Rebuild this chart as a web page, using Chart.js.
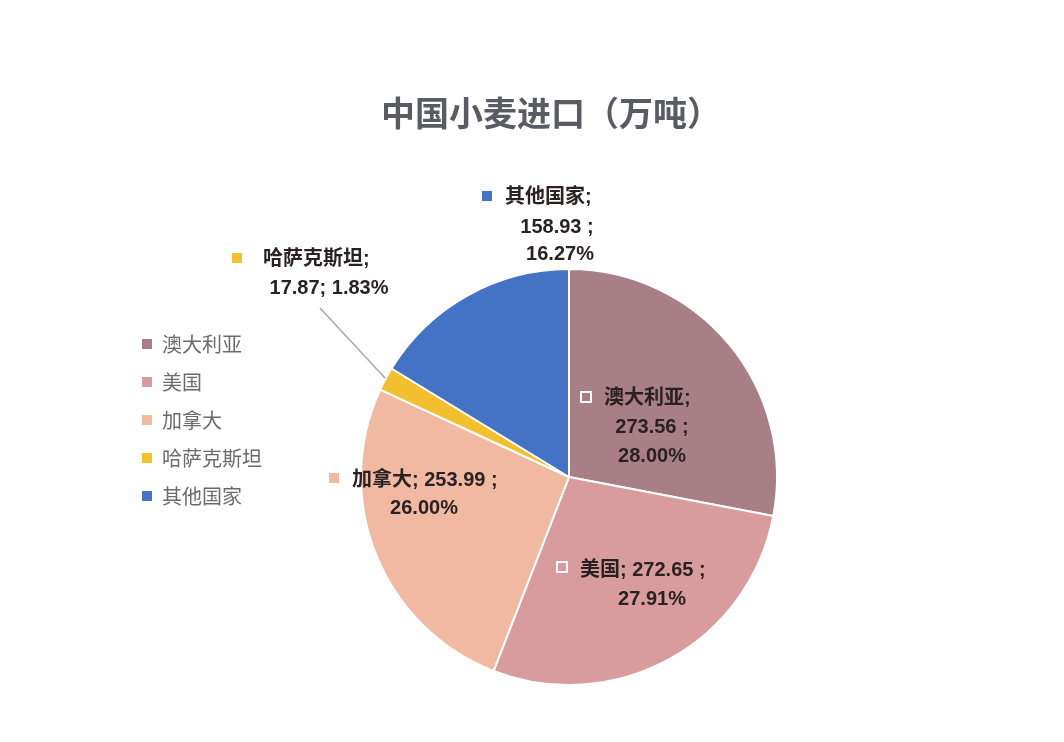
<!doctype html>
<html lang="zh">
  <head>
    <meta charset="UTF-8" />
    <title>中国小麦进口（万吨）</title>
    <script src="https://cdn.jsdelivr.net/npm/chart.js@4.4.1/dist/chart.umd.min.js"></script>
    <style>
      html,
      body {
        margin: 0;
        padding: 0;
        background: #fff;
      }
      #wrap {
        width: 1064px;
        height: 742px;
      }
    </style>
  </head>
  <body>
    <div id="wrap"><canvas id="pie"></canvas></div>
    <script>
      // chart data
      const countries = ["澳大利亚", "美国", "加拿大", "哈萨克斯坦", "其他国家"];
      const imports = [273.56, 272.65, 253.99, 17.87, 158.93];
      const shares = ["28.00%", "27.91%", "26.00%", "1.83%", "16.27%"];
      const colors = ["#a87f87", "#d89c9f", "#f1b8a2", "#f2bf2e", "#4472c4"];
      const titleText = "中国小麦进口（万吨）";

      const FONT = '"Noto Sans CJK SC", "Noto Sans", sans-serif';
      const LABEL_FONT = '"Liberation Sans", "Noto Sans CJK SC", sans-serif';

      // label layout: lines, marker position, text anchor
      const labelSpec = [
        { marker: "hollow", mx: 586, my: 397, lines: [
            { t: countries[0] + ";", x: 604, y: 398, a: "left" },
            { t: imports[0].toFixed(2) + " ;", x: 652, y: 427, a: "center" },
            { t: shares[0], x: 652, y: 456, a: "center" } ] },
        { marker: "hollow", mx: 562, my: 567, lines: [
            { t: countries[1] + "; " + imports[1].toFixed(2) + " ;", x: 580, y: 570, a: "left" },
            { t: shares[1], x: 652, y: 599, a: "center" } ] },
        { marker: "fill", mx: 334, my: 478, lines: [
            { t: countries[2] + "; " + imports[2].toFixed(2) + " ;", x: 352, y: 480, a: "left" },
            { t: shares[2], x: 424, y: 508, a: "center" } ] },
        { marker: "fill", mx: 237, my: 258, lines: [
            { t: countries[3] + ";", x: 263, y: 259, a: "left" },
            { t: imports[3].toFixed(2) + "; " + shares[3], x: 329, y: 288, a: "center" } ],
          leader: [320, 308, 385, 378] },
        { marker: "fill", mx: 487, my: 196, lines: [
            { t: countries[4] + ";", x: 505, y: 197, a: "left" },
            { t: imports[4].toFixed(2) + " ;", x: 557, y: 227, a: "center" },
            { t: shares[4], x: 560, y: 254, a: "center" } ] },
      ];

      const decorations = {
        id: "decorations",
        afterDraw(chart) {
          const ctx = chart.ctx;
          ctx.save();

          // title
          ctx.fillStyle = "#5b5b63";
          ctx.font = "bold 34px " + FONT;
          ctx.textAlign = "center";
          ctx.textBaseline = "middle";
          ctx.fillText(titleText, 551, 113);

          // legend
          ctx.font = "20px " + FONT;
          ctx.textAlign = "left";
          countries.forEach((name, i) => {
            const y = 344 + i * 38;
            ctx.fillStyle = colors[i];
            ctx.fillRect(142, y - 5, 10, 10);
            ctx.fillStyle = "#6b6b6b";
            ctx.fillText(name, 162, y);
          });

          // data labels
          ctx.font = "bold 20px " + LABEL_FONT;
          labelSpec.forEach((s, i) => {
            if (s.leader) {
              ctx.strokeStyle = "#a6a6a6";
              ctx.lineWidth = 1.5;
              ctx.beginPath();
              ctx.moveTo(s.leader[0], s.leader[1]);
              ctx.lineTo(s.leader[2], s.leader[3]);
              ctx.stroke();
            }
            if (s.marker === "hollow") {
              ctx.fillStyle = "#fff";
              ctx.fillRect(s.mx - 6, s.my - 6, 12, 12);
              ctx.fillStyle = colors[i];
              ctx.fillRect(s.mx - 4, s.my - 4, 8, 8);
            } else {
              ctx.fillStyle = colors[i];
              ctx.fillRect(s.mx - 5, s.my - 5, 10, 10);
            }
            ctx.fillStyle = "#2a2222";
            s.lines.forEach((l) => {
              ctx.textAlign = l.a;
              ctx.fillText(l.t, l.x, l.y);
            });
          });
          ctx.restore();
        },
      };

      new Chart(document.getElementById("pie"), {
        type: "pie",
        data: {
          labels: countries,
          datasets: [
            {
              data: imports,
              backgroundColor: colors,
              borderColor: "#ffffff",
              borderWidth: 2,
            },
          ],
        },
        options: {
          responsive: true,
          maintainAspectRatio: false,
          animation: false,
          layout: {
            padding: { top: 268, bottom: 56, left: 360, right: 286 },
          },
          plugins: {
            legend: { display: false },
            title: { display: false },
            tooltip: { enabled: false },
          },
        },
        plugins: [decorations],
      });
    </script>
  </body>
</html>
